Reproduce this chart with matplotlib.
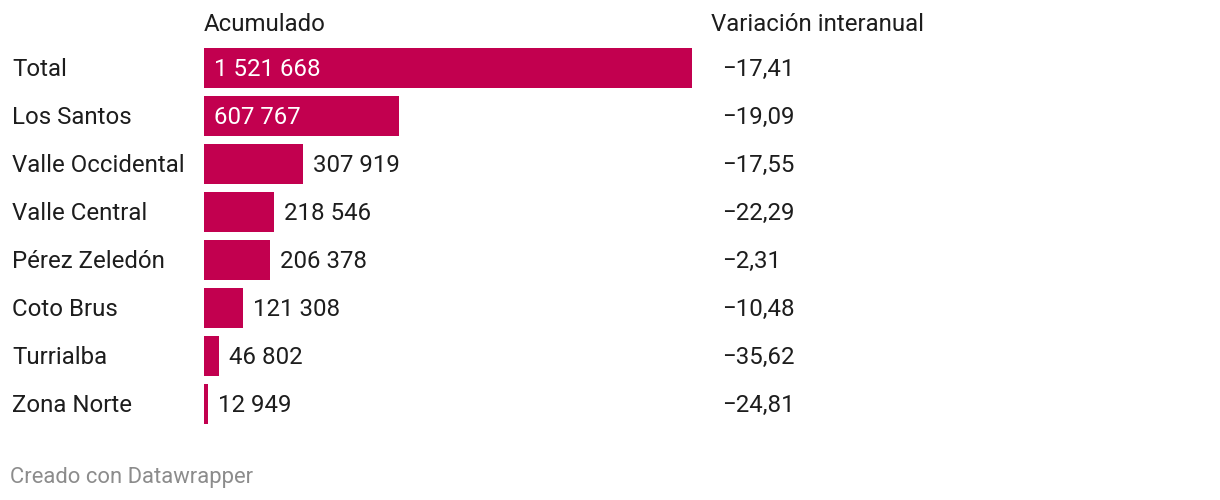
import matplotlib
matplotlib.use('Agg')
from matplotlib import pyplot as plt
import matplotlib.transforms as mtransforms

regions = ['Total', 'Los Santos', 'Valle Occidental', 'Valle Central',
           'Pérez Zeledón', 'Coto Brus', 'Turrialba', 'Zona Norte']
acumulado = [1521668, 607767, 307919, 218546, 206378, 121308, 46802, 12949]
variacion = [-17.41, -19.09, -17.55, -22.29, -2.31, -10.48, -35.62, -24.81]

bar_color = '#c2004f'
text_color = '#1d1d1d'
plt.rcParams['font.family'] = ['Roboto', 'DejaVu Sans']

W, H = 1220, 500
fig = plt.figure(figsize=(W / 100, H / 100), dpi=100)
fig.patch.set_facecolor('white')

# bar area: x 204..692 px, rows 44..428 px
ax = fig.add_axes([204 / W, (H - 428) / H, 488 / W, 384 / H])
ax.set_xlim(0, max(acumulado))
ax.set_ylim(len(regions) - 0.5, -0.5)
ax.axis('off')

ypos = list(range(len(regions)))
ax.barh(ypos, acumulado, height=40 / 48, color=bar_color, linewidth=0)

fs = 17.3
trans_fig = mtransforms.blended_transform_factory(fig.transFigure, ax.transData)
trans_lbl = mtransforms.offset_copy(trans_fig, fig=fig, x=0, y=1, units='dots')
px = lambda p: mtransforms.offset_copy(ax.transData, fig=fig, x=p, y=1, units='dots')

def fmt_num(v):
    return f'{v:,}'.replace(',', ' ')

def fmt_var(v):
    s = f'{abs(v):.2f}'.replace('.', ',')
    return ('−' if v < 0 else '') + s

for i, (name, val, var) in enumerate(zip(regions, acumulado, variacion)):
    ax.text(12 / W, i, name, transform=trans_lbl, ha='left', va='center_baseline',
            fontsize=fs, color=text_color)
    if val > 0.25 * max(acumulado):
        ax.text(0, i, fmt_num(val), transform=px(10), ha='left', va='center_baseline',
                fontsize=fs, color='white')
    else:
        ax.text(val, i, fmt_num(val), transform=px(10), ha='left', va='center_baseline',
                fontsize=fs, color=text_color)
    ax.text(722 / W, i, fmt_var(var), transform=trans_lbl, ha='left', va='center_baseline',
            fontsize=fs, color=text_color)

fig.text(204 / W, 1 - 22 / H, 'Acumulado', ha='left', va='center_baseline',
         fontsize=fs, color=text_color)
fig.text(711 / W, 1 - 22 / H, 'Variación interanual', ha='left', va='center_baseline',
         fontsize=fs, color=text_color)
fig.text(10 / W, 1 - 475 / H, 'Creado con Datawrapper', ha='left', va='center_baseline',
         fontsize=15.8, color='#8c8c8c')

fig.savefig('out.png', dpi=100, facecolor='white')
